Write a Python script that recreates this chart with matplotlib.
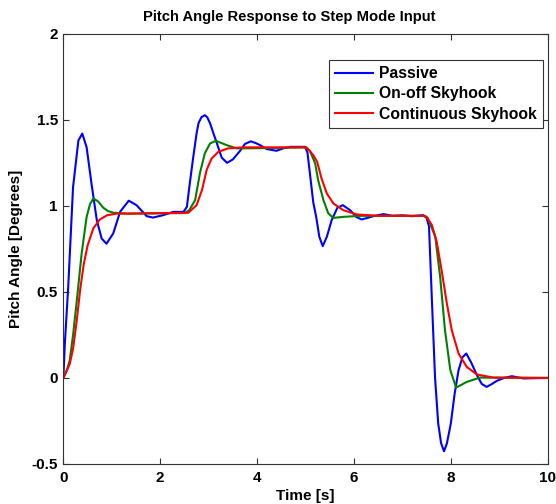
import matplotlib
matplotlib.use("Agg")
from matplotlib import pyplot as plt

plt.rcParams["font.family"] = ["Liberation Sans", "DejaVu Sans"]
plt.rcParams["font.weight"] = "bold"

# Passive response
t_passive = [0, 0.03, 0.10, 0.20, 0.31, 0.39, 0.48, 0.58, 0.69, 0.79, 0.89, 1.03,
             1.17, 1.35, 1.51, 1.72, 1.85, 2.05, 2.27, 2.48, 2.55, 2.61, 2.68, 2.75,
             2.79, 2.85, 2.92, 2.97, 3.03, 3.10, 3.17, 3.27, 3.38, 3.50, 3.65, 3.75,
             3.87, 3.97, 4.06, 4.20, 4.40, 4.55, 4.68, 4.99, 5.04, 5.09, 5.16, 5.22,
             5.285, 5.355, 5.44, 5.54, 5.66, 5.77, 5.92, 6.05, 6.16, 6.28, 6.40, 6.61,
             6.80, 7.00, 7.20, 7.43, 7.50, 7.55, 7.61, 7.675, 7.74, 7.80, 7.86, 7.92,
             8.00, 8.08, 8.16, 8.24, 8.32, 8.42, 8.54, 8.64, 8.74, 8.85, 8.95, 9.10,
             9.26, 9.50, 10]
y_passive = [0, 0.20, 0.53, 1.11, 1.38, 1.42, 1.34, 1.13, 0.917, 0.81, 0.78, 0.84,
             0.965, 1.03, 1.004, 0.94, 0.932, 0.945, 0.965, 0.965, 0.994, 1.13, 1.28, 1.42,
             1.48, 1.515, 1.527, 1.515, 1.479, 1.42, 1.363, 1.28, 1.25, 1.27, 1.32, 1.36,
             1.375, 1.365, 1.353, 1.33, 1.32, 1.335, 1.343, 1.343, 1.31, 1.19, 1.02, 0.936,
             0.82, 0.766, 0.82, 0.917, 0.99, 1.004, 0.975, 0.935, 0.921, 0.93, 0.94, 0.952,
             0.942, 0.945, 0.94, 0.946, 0.93, 0.88, 0.45, 0.0, -0.265, -0.38, -0.426, -0.38,
             -0.265, -0.09, 0.045, 0.12, 0.142, 0.09, 0.016, -0.035, -0.052, -0.035, -0.017, 0.0,
             0.01, -0.003, 0]

# On-off skyhook response
t_onoff = [0, 0.07, 0.13, 0.20, 0.27, 0.376, 0.48, 0.55, 0.62, 0.72, 0.82, 0.92,
           1.03, 1.30, 2.50, 2.60, 2.72, 2.82, 2.92, 3.03, 3.15, 3.37, 3.58, 4.00,
           5.00, 5.09, 5.20, 5.26, 5.37, 5.47, 5.575, 5.78, 6.13, 7.45, 7.52, 7.57,
           7.68, 7.78, 7.88, 7.99, 8.11, 8.33, 8.60, 10]
y_onoff = [0, 0.045, 0.10, 0.25, 0.43, 0.72, 0.936, 1.01, 1.043, 1.025, 0.99, 0.97,
           0.96, 0.955, 0.958, 0.975, 1.033, 1.19, 1.305, 1.363, 1.378, 1.353, 1.334, 1.335,
           1.34, 1.32, 1.246, 1.15, 1.033, 0.956, 0.93, 0.936, 0.942, 0.942, 0.93, 0.898,
           0.82, 0.587, 0.277, 0.045, -0.056, -0.023, 0.002, 0]

# Continuous skyhook response
t_cont = [0, 0.05, 0.13, 0.20, 0.27, 0.35, 0.42, 0.50, 0.62, 0.75, 0.90, 1.10,
          1.40, 2.58, 2.75, 2.86, 2.96, 3.06, 3.20, 3.40, 3.72, 5.02, 5.16, 5.24,
          5.33, 5.44, 5.575, 5.78, 6.06, 6.50, 7.45, 7.50, 7.61, 7.71, 7.81, 7.92,
          8.02, 8.16, 8.33, 8.54, 8.88, 10]
y_cont = [0, 0.03, 0.08, 0.17, 0.32, 0.52, 0.66, 0.77, 0.87, 0.92, 0.945, 0.955,
          0.955, 0.96, 1.004, 1.09, 1.21, 1.275, 1.314, 1.334, 1.34, 1.34, 1.295, 1.256,
          1.16, 1.072, 1.014, 0.975, 0.95, 0.942, 0.942, 0.936, 0.888, 0.79, 0.626, 0.43,
          0.277, 0.142, 0.064, 0.02, 0.002, 0]

fig = plt.figure(figsize=(5.56, 5.04), dpi=100)
ax = fig.add_axes([0.114, 0.0794, 0.871, 0.8536])

ax.plot(t_passive, y_passive, c="#0000ff", linewidth=1.5, label="Passive")
ax.plot(t_onoff, y_onoff, c="#008000", linewidth=1.5, label="On-off Skyhook")
ax.plot(t_cont, y_cont, c="#ff0000", linewidth=1.5, label="Continuous Skyhook")

ax.set_xlim(0, 10)
ax.set_ylim(-0.5, 2)
ax.set_xticks([0, 2, 4, 6, 8, 10])
ax.set_yticks([-0.5, 0, 0.5, 1, 1.5, 2])
ax.set_yticklabels(["-0.5", "0", "0.5", "1", "1.5", "2"])
ax.tick_params(direction="in", top=True, right=True, length=4, width=0.8,
               labelsize=11, colors="#333333", labelcolor="black")
ax.tick_params(axis="x", pad=5)
ax.tick_params(axis="y", pad=4)
for s in ax.spines.values():
    s.set_color("#333333")
    s.set_linewidth(0.8)

ax.set_title("Pitch Angle Response to Step Mode Input", fontsize=10.6,
             fontweight="bold", pad=9, x=0.466)
ax.set_xlabel("Time [s]", fontsize=11, fontweight="bold", labelpad=3)
ax.set_ylabel("Pitch Angle [Degrees]", fontsize=11, fontweight="bold", labelpad=6)

leg = ax.legend(loc="upper right", bbox_to_anchor=(0.9907, 0.939), fontsize=11.3,
                fancybox=False, framealpha=1, edgecolor="#333333",
                handlelength=2.4, handletextpad=0.4, labelspacing=0.33,
                borderpad=0.4, borderaxespad=0)
leg.get_frame().set_linewidth(0.8)

plt.savefig("out.png", dpi=100)
